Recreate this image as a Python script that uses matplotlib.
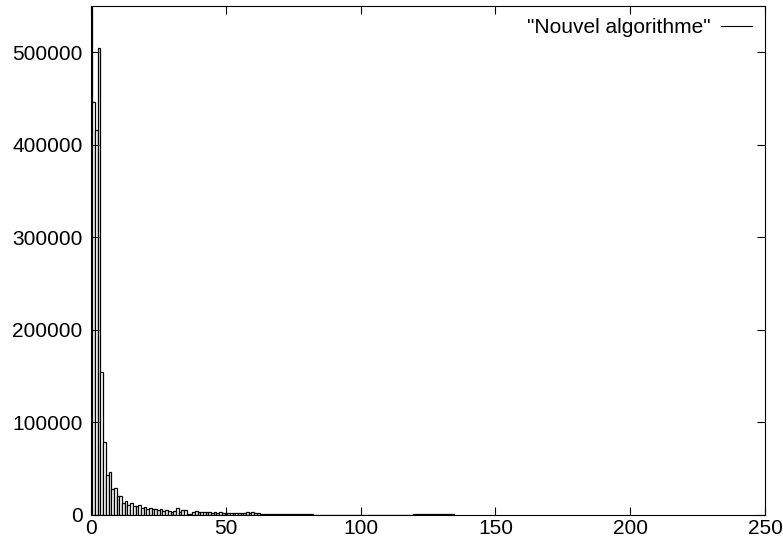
import matplotlib
matplotlib.use("Agg")
from matplotlib import pyplot as plt
from matplotlib.lines import Line2D

plt.rcParams['font.family'] = ['Liberation Sans', 'DejaVu Sans']

# counts per value (bin 0 goes above the top of the plot)
counts = [600000, 446000, 416000, 505000, 154000, 79000, 43000, 46000, 28000, 29000,
          20000, 21000, 13000, 15000, 11000, 12500, 9500, 10000, 10500, 8000,
          9000, 7000, 7500, 6000, 6500, 5000, 6000, 4500, 5000, 4000,
          3500, 4000, 8000, 3000, 5000, 5000, 1500, 1500, 3000, 4000,
          3500, 3000, 3500, 3000, 3000, 2500, 3000, 2500, 3000, 2500,
          2000, 2500, 2000, 2500, 2000, 2000, 2500, 2000, 3000, 2500,
          3000, 2000, 1800, 1500, 1500, 1400, 1300, 1200, 1200, 1100,
          1000, 1000, 900, 900, 800, 800, 800, 700, 700, 700,
          600, 600, 600, 500, 500, 500, 500, 400, 400, 400,
          400, 400, 300, 300, 300, 300, 300, 300, 300, 300,
          200, 300, 0, 200, 0, 300, 200, 0, 200, 300,
          200, 0, 300, 200, 200, 0, 300, 200, 300, 200,
          1200, 1000, 1500, 1300, 1500, 1200, 1400, 1000, 1300, 1100,
          1200, 1000, 900, 1000, 800]
values = list(range(len(counts)))
label = '"Nouvel algorithme"'

fig = plt.figure(figsize=(7.83, 5.40), dpi=100)
ax = fig.add_axes([0.1163, 0.0463, 0.977 - 0.1163, 0.989 - 0.0463])

ax.bar(values, counts, width=1.0, color='white', edgecolor='black', linewidth=0.9)

ax.set_xlim(0, 250)
ax.set_ylim(0, 550000)
ax.set_xticks([0, 50, 100, 150, 200, 250])
ax.set_yticks([0, 100000, 200000, 300000, 400000, 500000])
ax.tick_params(direction='in', length=6, width=0.8, labelsize=15,
               top=True, right=True)
ax.tick_params(axis='y', pad=6)
ax.tick_params(axis='x', pad=3)
for s in ax.spines.values():
    s.set_linewidth(0.8)

proxy = Line2D([0], [0], color='black', linewidth=0.8)
ax.legend([proxy], [label], loc='upper right', frameon=False, fontsize=15,
          markerfirst=False, handlelength=1.5, handletextpad=0.5,
          borderaxespad=0.2)

plt.savefig('out.png', dpi=100)
